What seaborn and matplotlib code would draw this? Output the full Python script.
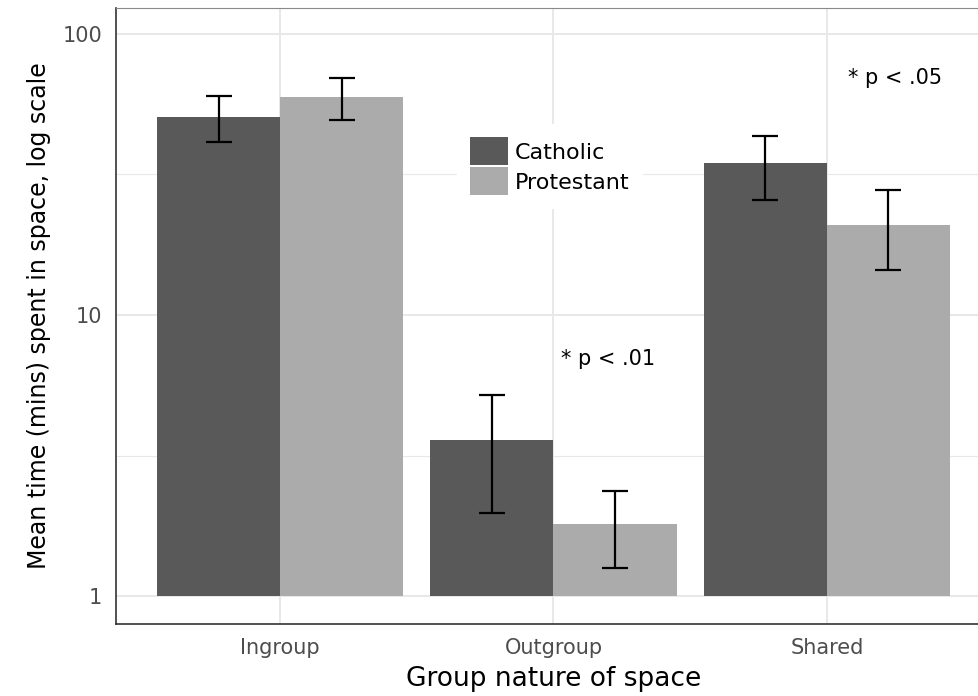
import matplotlib
matplotlib.use('Agg')
import matplotlib.pyplot as plt
from matplotlib.patches import Patch
from matplotlib.ticker import FixedLocator
import seaborn as sns
import pandas as pd


spaces = ['Ingroup', 'Outgroup', 'Shared']
groups = ['Catholic', 'Protestant']
catholic_mean = [50.6, 3.6, 34.7]
catholic_lo = [41.3, 1.97, 25.7]
catholic_hi = [60.1, 5.2, 43.4]
protestant_mean = [59.7, 1.8, 20.9]
protestant_lo = [49.4, 1.26, 14.5]
protestant_hi = [69.7, 2.36, 27.8]
colours = ['#595959', '#ababab']
y_ticks = [1, 10, 100]
y_labels = ['1', '10', '100']
notes = [(1.2, 7.0, '* p < .01'), (2.25, 70.0, '* p < .05')]


df = pd.DataFrame({
	'space': spaces * 2,
	'group': [groups[0]] * 3 + [groups[1]] * 3,
	'mean': catholic_mean + protestant_mean,
	'lo': catholic_lo + protestant_lo,
	'hi': catholic_hi + protestant_hi,
})

sns.set_theme(style='white')
plt.rcParams['font.family'] = ['DejaVu Sans']

fig = plt.figure(figsize=(9.79, 6.96), dpi=100)
ax = fig.add_axes([116 / 979, 1 - 624 / 696, 875 / 979, 616 / 696])

sns.barplot(data=df, x='space', y='mean', hue='group', order=spaces, hue_order=groups,
	palette=colours, width=0.9, gap=0, saturation=1, errorbar=None, ax=ax, zorder=2,
	edgecolor='none', linewidth=0)
if ax.legend_ is not None:
	ax.legend_.remove()

ax.set_yscale('log')
# bars start at 1 on the log axis (skip any empty placeholder patches)
bars = [p for p in ax.patches if p.get_height() > 0 and p.get_width() > 0]
for p in bars:
	h = p.get_height()
	p.set_y(1)
	p.set_height(h - 1)

# error bars, matched to the drawn bars
for p in bars:
	xc = p.get_x() + p.get_width() / 2
	top = p.get_y() + p.get_height()
	row = df.iloc[(df['mean'] - top).abs().argmin()]
	ax.errorbar(xc, row['mean'], yerr=[[row['mean'] - row['lo']], [row['hi'] - row['mean']]],
		fmt='none', ecolor='black', elinewidth=1.6, capsize=9.5, capthick=1.6, zorder=3)

ax.set_xlim(-0.6, 2.6)
ax.set_ylim(10 ** -0.0996, 10 ** 2.0925)
ax.set_yticks(y_ticks, labels=y_labels)
ax.yaxis.set_minor_locator(FixedLocator([10 ** 0.5, 10 ** 1.5]))
ax.tick_params(axis='y', which='minor', length=0)
ax.tick_params(which='major', length=5, width=1.1, color='#333333', labelsize=15,
	labelcolor='#4d4d4d', pad=5)
ax.grid(which='major', color='#e8e8e8', lw=1.4, zorder=0)
ax.grid(which='minor', axis='y', color='#e8e8e8', lw=0.8, zorder=0)
ax.set_axisbelow(True)

for s in ['left', 'bottom']:
	ax.spines[s].set_color('#333333')
	ax.spines[s].set_linewidth(1.2)
ax.spines['top'].set_color('#8a8a8a')
ax.spines['top'].set_linewidth(0.8)
ax.spines['right'].set_visible(False)

ax.set_xlabel('Group nature of space', fontsize=19, color='black', labelpad=6)
ax.set_ylabel('Mean time (mins) spent in space, log scale', fontsize=17, color='black', labelpad=8)

for x, y, t in notes:
	ax.text(x, y, t, fontsize=15, ha='center', va='center', color='black')

handles = [Patch(facecolor=c, edgecolor='none') for c in colours]
leg = ax.legend(handles, groups, loc='upper left',
	bbox_to_anchor=((457 - 116) / 875, 1 - (124 - 8) / 616),
	fontsize=16, frameon=True, facecolor='white', edgecolor='none', framealpha=1,
	fancybox=False, handlelength=1.7, handleheight=1.55, handletextpad=0.3,
	labelspacing=0.1, borderpad=0.6, borderaxespad=0, labelcolor='black')
leg.set_zorder(4)

fig.savefig('out.png', dpi=100)
plt.close(fig)
